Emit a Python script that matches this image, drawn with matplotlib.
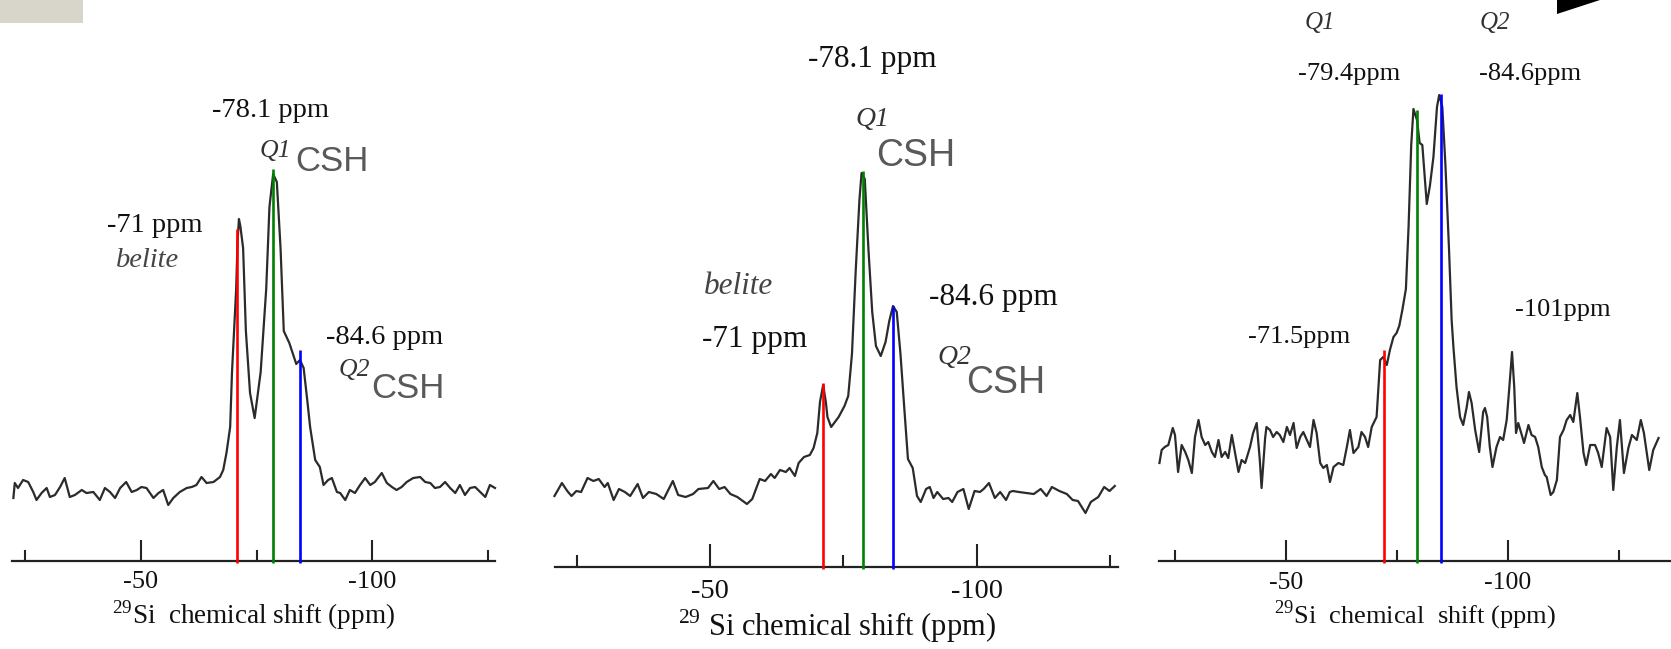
import matplotlib.pyplot as plt
from matplotlib.patches import Rectangle, Polygon

plt.rcParams['font.family'] = ['Liberation Serif', 'DejaVu Serif']
plt.rcParams['mathtext.fontset'] = 'custom'
plt.rcParams['mathtext.rm'] = 'Liberation Serif'
plt.rcParams['axes.unicode_minus'] = False

W, H = 1671, 649

# --- 29Si spectra (ppm, intensity a.u. above the axis) ---
ppm_a = [-22.4, -22.7, -23.4, -24.5, -25.6, -26.7, -27.4, -28.5, -29.6, -30.3, -31.4, -32.5,
         -33.5, -34.6, -35.7, -37.2, -38.2, -39.7, -41.1, -42.2, -43.3, -44.4, -45.5, -46.8,
         -48.0, -49.1, -50.1, -51.2, -52.7, -53.8, -54.8, -55.9, -57.0, -58.4, -59.9, -61.0,
         -62.0, -63.1, -64.2, -65.7, -67.1, -67.8, -68.5, -69.3, -69.7, -70.6, -70.9, -71.2,
         -71.5, -72.1, -72.7, -73.6, -74.6, -75.9, -77.1, -77.8, -78.6, -79.4, -80.2, -80.9,
         -82.1, -83.6, -84.4, -85.2, -86.0, -86.6, -87.7, -88.7, -89.5, -90.5, -91.3, -92.4,
         -93.1, -94.2, -95.2, -96.3, -97.4, -98.5, -99.6, -100.6, -102.1, -103.2, -104.3,
         -105.3, -106.4, -107.5, -108.9, -110.4, -111.5, -112.6, -113.6, -114.7, -115.8,
         -116.9, -118.0, -119.0, -120.1, -121.2, -122.3, -123.4, -124.5, -125.5, -126.6]
int_a = [63, 78, 73, 81, 79, 69, 61, 68, 73, 64, 66, 74,
         83, 64, 66, 71, 68, 69, 61, 73, 69, 63, 73, 79,
         69, 71, 74, 73, 63, 68, 71, 56, 63, 69, 73, 74,
         76, 84, 78, 79, 84, 91, 108, 134, 189, 272, 320, 342,
         335, 313, 230, 168, 143, 189, 272, 354, 387, 379, 313, 230,
         218, 197, 201, 193, 160, 134, 101, 94, 76, 81, 83, 69,
         68, 61, 71, 68, 76, 83, 76, 79, 88, 78, 74,
         71, 74, 79, 83, 84, 79, 78, 73, 74, 79,
         73, 68, 76, 66, 73, 74, 69, 64, 76, 73]

ppm_b = [-20.8, -22.2, -23.2, -24.0, -24.9, -25.8, -27.0, -28.1, -29.1, -30.2, -30.8, -31.9,
         -32.9, -34.0, -35.0, -36.4, -37.4, -38.5, -39.9, -41.3, -43.0, -44.0, -45.4, -46.8,
         -47.8, -49.6, -50.6, -51.7, -52.7, -53.8, -55.1, -56.9, -57.9, -59.3, -60.3, -61.4,
         -62.1, -63.1, -64.2, -64.9, -65.9, -66.6, -67.6, -68.7, -69.4, -70.1, -70.6, -71.2,
         -71.7, -72.0, -72.7, -74.1, -75.2, -75.9, -76.6, -77.3, -78.0, -78.4, -79.0, -79.7,
         -80.4, -81.1, -82.0, -82.9, -83.6, -84.3, -85.0, -85.7, -86.4, -87.1, -88.0, -88.8,
         -89.5, -90.5, -91.2, -91.9, -92.6, -93.7, -94.7, -95.4, -96.4, -97.5, -98.5, -99.6,
         -100.6, -101.3, -102.3, -103.4, -104.4, -105.5, -106.2, -106.8, -107.9, -109.3,
         -110.7, -112.0, -113.1, -114.1, -115.5, -116.9, -118.0, -119.0, -120.4, -121.4,
         -122.8, -123.9, -124.9, -125.9]
int_b = [71, 84, 76, 71, 76, 75, 89, 86, 88, 80, 84, 67,
         78, 75, 71, 83, 69, 75, 73, 68, 86, 72, 70, 73,
         78, 79, 86, 78, 80, 73, 70, 63, 68, 88, 86, 93,
         89, 97, 95, 99, 91, 104, 110, 112, 119, 134, 165, 182,
         165, 150, 140, 150, 161, 171, 213, 296, 367, 394, 388, 317,
         255, 221, 211, 225, 246, 261, 255, 213, 160, 108, 99, 71,
         65, 78, 80, 69, 75, 68, 69, 65, 75, 78, 58, 76,
         75, 78, 84, 69, 75, 67, 75, 76, 75, 74,
         73, 78, 71, 80, 76, 73, 67, 66, 54, 65,
         70, 80, 76, 81]

ppm_c = [-21.5, -22.0, -22.7, -23.5, -24.5, -25.0, -25.7, -26.5, -27.3, -28.0, -28.8, -29.5,
         -30.3, -31.0, -31.8, -32.5, -33.3, -34.0, -34.8, -35.5, -36.3, -37.0, -37.8, -38.5,
         -39.3, -40.0, -40.8, -41.9, -42.6, -43.4, -44.1, -44.5, -45.3, -45.6, -46.4, -47.1,
         -47.9, -48.6, -49.4, -50.2, -50.9, -51.7, -52.4, -53.2, -53.9, -54.7, -55.4, -56.2,
         -56.9, -57.7, -58.4, -59.2, -59.9, -60.7, -61.8, -62.9, -63.7, -64.4, -65.2, -66.3,
         -67.0, -67.8, -68.5, -69.3, -70.4, -71.2, -71.9, -72.7, -73.4, -74.2, -74.9, -75.5,
         -76.2, -77.0, -77.6, -78.2, -78.7, -79.5, -80.1, -80.7, -81.7, -82.4, -83.2, -84.0,
         -84.5, -85.2, -85.9, -86.7, -87.3, -87.7, -88.4, -89.2, -89.9, -90.7, -91.2, -91.8,
         -92.6, -93.5, -94.4, -94.8, -95.3, -95.9, -96.5, -97.4, -98.2, -98.9, -99.7, -100.3,
         -100.9, -101.4, -101.8, -102.3, -103.1, -103.6, -104.6, -105.3, -106.1, -106.8,
         -107.6, -108.3, -108.7, -109.6, -110.2, -111.0, -111.7, -112.5, -113.2, -114.0,
         -114.7, -115.6, -116.2, -117.0, -117.6, -118.5, -119.6, -120.3, -121.1, -122.2,
         -123.0, -123.7, -124.5, -125.2, -126.1, -127.1, -127.9, -129.0, -129.9, -130.6,
         -131.8, -132.7, -133.9]
int_c = [98, 111, 114, 116, 133, 126, 89, 116, 109, 101, 88, 124,
         141, 124, 116, 119, 109, 104, 121, 104, 109, 103, 126, 109,
         89, 101, 98, 114, 128, 138, 101, 73, 123, 134, 131, 124,
         129, 126, 119, 134, 126, 138, 113, 124, 129, 121, 114, 141,
         128, 98, 93, 96, 79, 94, 98, 96, 114, 131, 108, 114,
         129, 124, 114, 134, 144, 201, 204, 196, 211, 224, 228, 235,
         251, 272, 334, 416, 452, 441, 418, 416, 357, 375, 404, 454,
         466, 454, 396, 313, 241, 214, 174, 144, 136, 154, 169, 158,
         131, 109, 149, 153, 144, 114, 94, 114, 124, 121, 141, 174,
         209, 174, 128, 138, 126, 118, 136, 126, 124, 114,
         94, 86, 84, 66, 69, 81, 124, 131, 141, 146,
         139, 168, 144, 108, 96, 116, 116, 108, 94, 133,
         124, 71, 114, 141, 88, 113, 126, 121, 141, 128,
         91, 111, 123]

# peak marker lines: position (ppm) and top (a.u.)
marks_a_ppm = [-70.7, -78.6, -84.5]
marks_a_top = [332, 392, 211]
marks_b_ppm = [-71.2, -78.6, -84.3]
marks_b_top = [184, 396, 261]
marks_c_ppm = [-72.0, -79.5, -84.9]
marks_c_top = [211, 451, 467]
mark_colors = ['#ff0000', '#008000', '#0000ff']

tick_major = [-50, -100]
tick_labels = ['-50', '-100']
tick_minor = [-25, -75, -125]

# labels: (text, ppm, intensity, kind)
notes_a = [('-78.1 ppm', -78.1, 451, 'ppm'), ('Q1', -79.0, 410, 'q'), ('CSH', -91.3, 400, 'csh'),
           ('-71 ppm', -53.0, 336, 'ppm'), ('belite', -51.5, 301, 'bel'),
           ('-84.6 ppm', -102.8, 224, 'ppm'), ('Q2', -96.1, 191, 'q'), ('CSH', -107.8, 173, 'csh')]
notes_b = [('-78.1 ppm', -80.4, 507, 'ppm'), ('Q1', -80.4, 448, 'q'), ('CSH', -88.5, 411, 'csh'),
           ('belite', -55.3, 280, 'bel'), ('-71 ppm', -58.4, 227, 'ppm'),
           ('-84.6 ppm', -103.1, 269, 'ppm'), ('Q2', -95.8, 209, 'q'), ('CSH', -105.5, 184, 'csh')]
notes_c = [('Q1', -57.7, 538, 'q'), ('Q2', -97.1, 538, 'q'),
           ('-79.4ppm', -64.2, 487, 'ppm'), ('-84.6ppm', -105.0, 487, 'ppm'),
           ('-101ppm', -112.4, 251, 'ppm'), ('-71.5ppm', -52.9, 224, 'ppm')]


def panel(fig, x0, x1, axis_y, xlim, ppm, inten, mppm, mtop, notes, fs, xlabel,
          tick_len=15, pad=7, labelpad=4):
    ax = fig.add_axes([x0 / W, 1 - axis_y / H, (x1 - x0) / W, axis_y / H])
    ax.set_xlim(*xlim)
    ax.set_ylim(0, axis_y)
    ax.patch.set_alpha(0)
    for s in ['top', 'left', 'right']:
        ax.spines[s].set_visible(False)
    ax.spines['bottom'].set_linewidth(1.6)
    ax.spines['bottom'].set_color('#222222')
    ax.set_yticks([])
    ax.set_xticks(tick_major)
    ax.set_xticklabels(tick_labels)
    ax.set_xticks(tick_minor, minor=True)
    ax.tick_params(axis='x', which='major', direction='in', length=tick_len, width=1.5,
                   color='#222222', labelsize=fs['tick'], pad=pad, labelcolor='#111111')
    ax.tick_params(axis='x', which='minor', direction='in', length=tick_len * 0.52, width=1.5,
                   color='#222222')
    ax.plot(ppm, inten, color='#2b2b2b', lw=1.6, clip_on=False)
    ax.vlines(mppm, -2, mtop, colors=mark_colors, lw=1.9, zorder=3, clip_on=False)
    for txt, x, y, kind in notes:
        if kind == 'ppm':
            ax.text(x, y, txt, fontsize=fs['ppm'], color='#111111', ha='center', va='center')
        elif kind == 'bel':
            ax.text(x, y, txt, fontsize=fs['ppm'], color='#444444', style='italic',
                    ha='center', va='center')
        elif kind == 'q':
            ax.text(x, y, txt, fontsize=fs['q'], color='#333333', style='italic',
                    ha='center', va='center')
        else:
            ax.text(x, y, txt, fontsize=fs['csh'], color='#595959', ha='center', va='center',
                    family=['Liberation Sans', 'DejaVu Sans'])
    ax.set_xlabel(xlabel, fontsize=fs['xlabel'], color='#111111', labelpad=labelpad)
    return ax


fig = plt.figure(figsize=(W / 100, H / 100), dpi=100)

panel(fig, 12, 495, 561, (-22.1, -126.6), ppm_a, int_a, marks_a_ppm, marks_a_top, notes_a,
      {'tick': 19, 'ppm': 20.5, 'q': 18.5, 'csh': 25, 'xlabel': 19.5},
      r'$^{29}$Si  chemical shift (ppm)', tick_len=15, pad=7, labelpad=4)
panel(fig, 555, 1118, 567, (-20.9, -126.5), ppm_b, int_b, marks_b_ppm, marks_b_top, notes_b,
      {'tick': 20.5, 'ppm': 22.5, 'q': 20, 'csh': 27, 'xlabel': 22},
      r'$^{29}$ Si chemical shift (ppm)', tick_len=16.5, pad=9, labelpad=2)
panel(fig, 1159, 1671, 561, (-21.4, -136.7), ppm_c, int_c, marks_c_ppm, marks_c_top, notes_c,
      {'tick': 18.5, 'ppm': 19, 'q': 18, 'csh': 25, 'xlabel': 19},
      r'$^{29}$Si  chemical  shift (ppm)', tick_len=15, pad=8, labelpad=3)

# slide decorations at the corners
fig.add_artist(Rectangle((0, 1 - 23 / H), 83 / W, 23 / H, transform=fig.transFigure,
                         color='#d8d6cb', lw=0))
fig.add_artist(Polygon([(1557 / W, 1), (1557 / W, 1 - 14 / H), (1600 / W, 1)],
                       transform=fig.transFigure, color='black', lw=0))

fig.savefig('out.png', dpi=100)
